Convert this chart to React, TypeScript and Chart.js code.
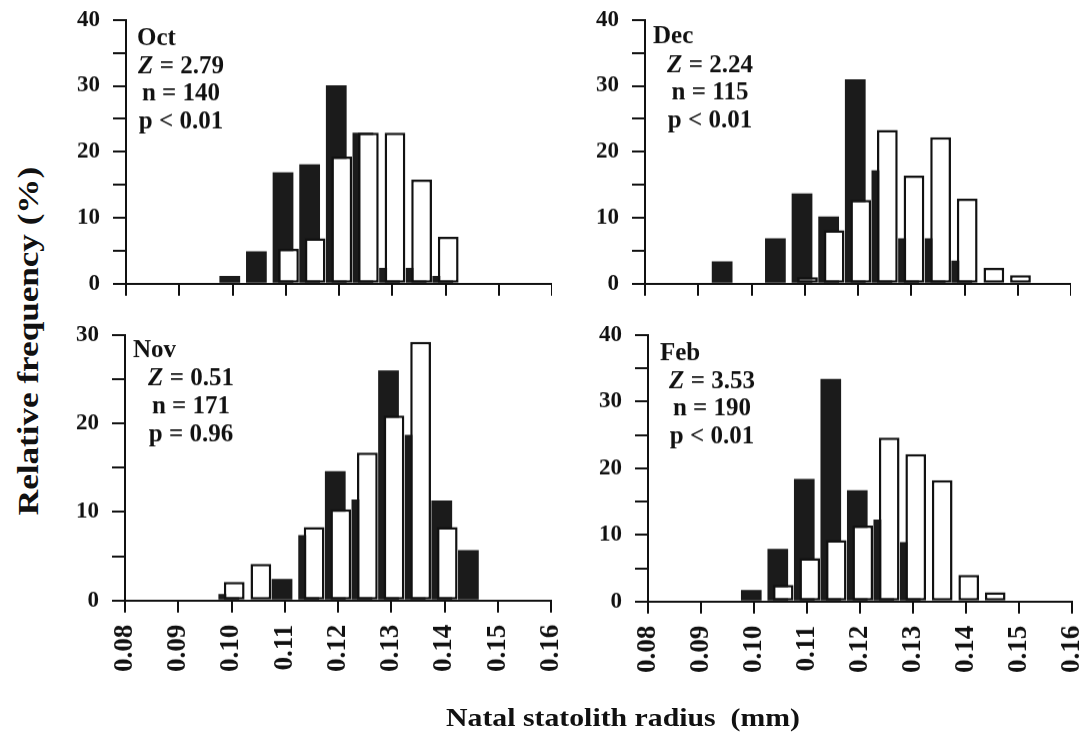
import React, { useEffect, useRef } from 'react';
import { Chart, registerables } from 'chart.js';

Chart.register(...registerables);

// ---------- data ----------
const BINS = [0.095, 0.1, 0.105, 0.11, 0.115, 0.12, 0.125, 0.13, 0.135, 0.14, 0.145, 0.15];

const OCT_BLACK = [null, 1.2, 4.9, 16.9, 18.1, 30.1, 22.9, 2.4, 2.4, 1.2, null, null];
const OCT_WHITE = [null, null, null, 5.3, 6.9, 19.3, 22.9, 22.9, 15.8, 7.1, null, null];

const DEC_BLACK = [3.4, null, 6.9, 13.7, 10.2, 31.0, 17.2, 6.9, 6.9, 3.5, null, null];
const DEC_WHITE = [null, null, null, 1.0, 8.1, 12.7, 23.3, 16.4, 22.2, 12.9, 2.4, 1.3];

const NOV_BLACK = [null, 0.75, null, 2.45, 7.4, 14.6, 11.4, 26.0, 18.7, 11.3, 5.7, null];
const NOV_WHITE = [null, 2.1, 4.15, null, 8.3, 10.3, 16.7, 20.9, 29.2, 8.3, null, null];

const FEB_BLACK = [null, 1.75, 7.9, 18.4, 33.4, 16.7, 12.3, 8.9, null, null, null, null];
const FEB_WHITE = [null, null, 2.5, 6.5, 9.2, 11.4, 24.6, 22.1, 18.2, 4.0, 1.4, null];

const MONTHS = ['Oct', 'Dec', 'Nov', 'Feb'];
const Z_VALUES = ['2.79', '2.24', '0.51', '3.53'];
const N_VALUES = ['140', '115', '171', '190'];
const P_TEXTS = ['p < 0.01', 'p < 0.01', 'p = 0.96', 'p < 0.01'];
const Y_MAXES = [40, 40, 30, 40];

const X_MIN = 0.08;
const X_MAX = 0.16;
const X_STEP = 0.01;
const Y_STEP = 5;
const Y_LABEL_STEP = 10;

const Y_TITLE = 'Relative frequency (%)';
const X_TITLE = 'Natal statolith radius  (mm)';

// ---------- layout / style ----------
const FONT = "'Liberation Serif', 'Times New Roman', serif";
const BLACK = '#1b1b1b';
const Y_AXIS_W = 62;

type PanelLayout = {
  areaLeft: number; areaRight: number; areaTop: number; areaBottom: number;
  xAxisH: number; showX: boolean;
  labelDx: number; statsCx: number; baselines: number[];
};

const LAYOUTS: PanelLayout[] = [
  { areaLeft: 126, areaRight: 552, areaTop: 20, areaBottom: 283, xAxisH: 30, showX: false, labelDx: 11, statsCx: 55, baselines: [25, 53, 80, 108] },
  { areaLeft: 645, areaRight: 1071, areaTop: 20, areaBottom: 283, xAxisH: 30, showX: false, labelDx: 8, statsCx: 65, baselines: [23, 52, 79, 107] },
  { areaLeft: 125, areaRight: 551, areaTop: 335, areaBottom: 600, xAxisH: 110, showX: true, labelDx: 8, statsCx: 66, baselines: [22, 50, 78, 106] },
  { areaLeft: 648, areaRight: 1072, areaTop: 335, areaBottom: 601, xAxisH: 110, showX: true, labelDx: 12, statsCx: 64, baselines: [25, 53, 80, 108] },
];

const SERIES = [
  [OCT_BLACK, OCT_WHITE],
  [DEC_BLACK, DEC_WHITE],
  [NOV_BLACK, NOV_WHITE],
  [FEB_BLACK, FEB_WHITE],
];

const whiteOnTop = {
  id: 'whiteOnTop',
  beforeDatasetDraw(chart: any, args: any) {
    if (args.index === 1) return false;
  },
  afterDatasetsDraw(chart: any) {
    const meta = chart.getDatasetMeta(1);
    if (meta && meta.controller) meta.controller.draw();
  },
};

function makeTextPlugin(i: number, lay: PanelLayout) {
  return {
    id: 'panelText',
    afterDraw(chart: any) {
      const { ctx, chartArea } = chart;
      const left = chartArea.left;
      const top = chartArea.top;
      const bold = `bold 25px ${FONT}`;
      const ital = `italic bold 25px ${FONT}`;
      ctx.save();
      ctx.fillStyle = '#111';
      ctx.textBaseline = 'alphabetic';
      ctx.textAlign = 'left';
      ctx.font = bold;
      ctx.fillText(MONTHS[i], left + lay.labelDx, top + lay.baselines[0]);
      const cx = left + lay.statsCx;
      ctx.font = ital;
      const wZ = ctx.measureText('Z').width;
      ctx.font = bold;
      const rest = ' = ' + Z_VALUES[i];
      const wR = ctx.measureText(rest).width;
      const sx = cx - (wZ + wR) / 2;
      ctx.font = ital;
      ctx.fillText('Z', sx, top + lay.baselines[1]);
      ctx.font = bold;
      ctx.fillText(rest, sx + wZ, top + lay.baselines[1]);
      ctx.textAlign = 'center';
      ctx.fillText('n = ' + N_VALUES[i], cx, top + lay.baselines[2]);
      ctx.fillText(P_TEXTS[i], cx, top + lay.baselines[3]);
      ctx.restore();
    },
  };
}

function Panel({ i }: { i: number }) {
  const ref = useRef<HTMLCanvasElement | null>(null);
  const lay = LAYOUTS[i];
  const cW = lay.areaRight - lay.areaLeft + 130;
  const cH = lay.areaBottom - lay.areaTop + lay.xAxisH + 40;

  useEffect(() => {
    const canvas = ref.current;
    if (!canvas) return;
    const [blackVals, whiteVals] = SERIES[i];
    const chart = new Chart(canvas, {
      type: 'bar',
      data: {
        datasets: [
          {
            data: BINS.map((x, k) => ({ x, y: blackVals[k] })) as any,
            backgroundColor: BLACK,
            borderWidth: 0,
            categoryPercentage: 0.41,
            barPercentage: 3.8,
          },
          {
            data: BINS.map((x, k) => ({ x, y: whiteVals[k] })) as any,
            backgroundColor: '#ffffff',
            borderColor: '#111111',
            borderWidth: 2.5,
            borderSkipped: false,
            categoryPercentage: 0.41,
            barPercentage: 3.8,
          },
        ],
      },
      options: {
        animation: false,
        responsive: false,
        maintainAspectRatio: false,
        events: [],
        layout: { padding: 0 },
        plugins: { legend: { display: false }, tooltip: { enabled: false } },
        scales: {
          x: {
            type: 'linear',
            min: X_MIN,
            max: X_MAX,
            offset: false,
            grid: { offset: false, drawOnChartArea: false, drawTicks: true, tickLength: 12, color: '#111', lineWidth: 2 },
            border: { display: true, color: '#111', width: 2 },
            ticks: {
              display: lay.showX,
              stepSize: X_STEP,
              autoSkip: false,
              maxRotation: 90,
              minRotation: 90,
              padding: 12,
              color: '#111',
              font: { family: FONT, size: 27, weight: 'bold' },
              callback: (v: any) => Number(v).toFixed(2),
            },
            afterFit: (s: any) => { s.height = lay.xAxisH; },
          },
          y: {
            min: 0,
            max: Y_MAXES[i],
            grid: { drawOnChartArea: false, drawTicks: true, tickLength: 13, color: '#111', lineWidth: 2 },
            border: { display: true, color: '#111', width: 2 },
            ticks: {
              stepSize: Y_STEP,
              padding: 13,
              color: '#111',
              font: { family: FONT, size: 23, weight: 'bold' },
              callback: (v: any) => (Number(v) % Y_LABEL_STEP === 0 ? String(v) : ''),
            },
            afterFit: (s: any) => { s.width = Y_AXIS_W; },
          },
        },
      } as any,
      plugins: [whiteOnTop, makeTextPlugin(i, lay)] as any,
    });

    // fit the canvas so that the plot area lands where the reference has it
    const ca = chart.chartArea;
    const dW = (lay.areaRight - lay.areaLeft) - (ca.right - ca.left);
    const dH = (lay.areaBottom - lay.areaTop) - (ca.bottom - ca.top);
    if (Math.abs(dW) > 0.1 || Math.abs(dH) > 0.1) {
      chart.resize(chart.width + dW, chart.height + dH);
    }
    const ca2 = chart.chartArea;
    canvas.style.left = `${lay.areaLeft - ca2.left}px`;
    canvas.style.top = `${lay.areaTop - ca2.top}px`;
    return () => chart.destroy();
  }, [i]);

  return (
    <canvas
      ref={ref}
      width={cW}
      height={cH}
      style={{ position: 'absolute', left: 0, top: 0, width: cW, height: cH }}
    />
  );
}

export default function App() {
  return (
    <div style={{ position: 'absolute', left: 0, top: 0, width: 1086, height: 734, overflow: 'hidden', background: '#fff' }}>
      {[0, 1, 2, 3].map((i) => (
        <Panel key={i} i={i} />
      ))}
      <div
        style={{
          position: 'absolute', left: 28, top: 341, whiteSpace: 'nowrap',
          fontFamily: FONT, fontWeight: 'bold', fontSize: 30, lineHeight: 1, color: '#111',
          transform: 'translate(-50%, -50%) rotate(-90deg) scaleX(1.17)',
        }}
      >
        {Y_TITLE}
      </div>
      <div
        style={{
          position: 'absolute', left: 623, top: 705, whiteSpace: 'pre',
          fontFamily: FONT, fontWeight: 'bold', fontSize: 26, lineHeight: 1, color: '#111',
          transform: 'translateX(-50%) scaleX(1.145)',
        }}
      >
        {X_TITLE}
      </div>
    </div>
  );
}
